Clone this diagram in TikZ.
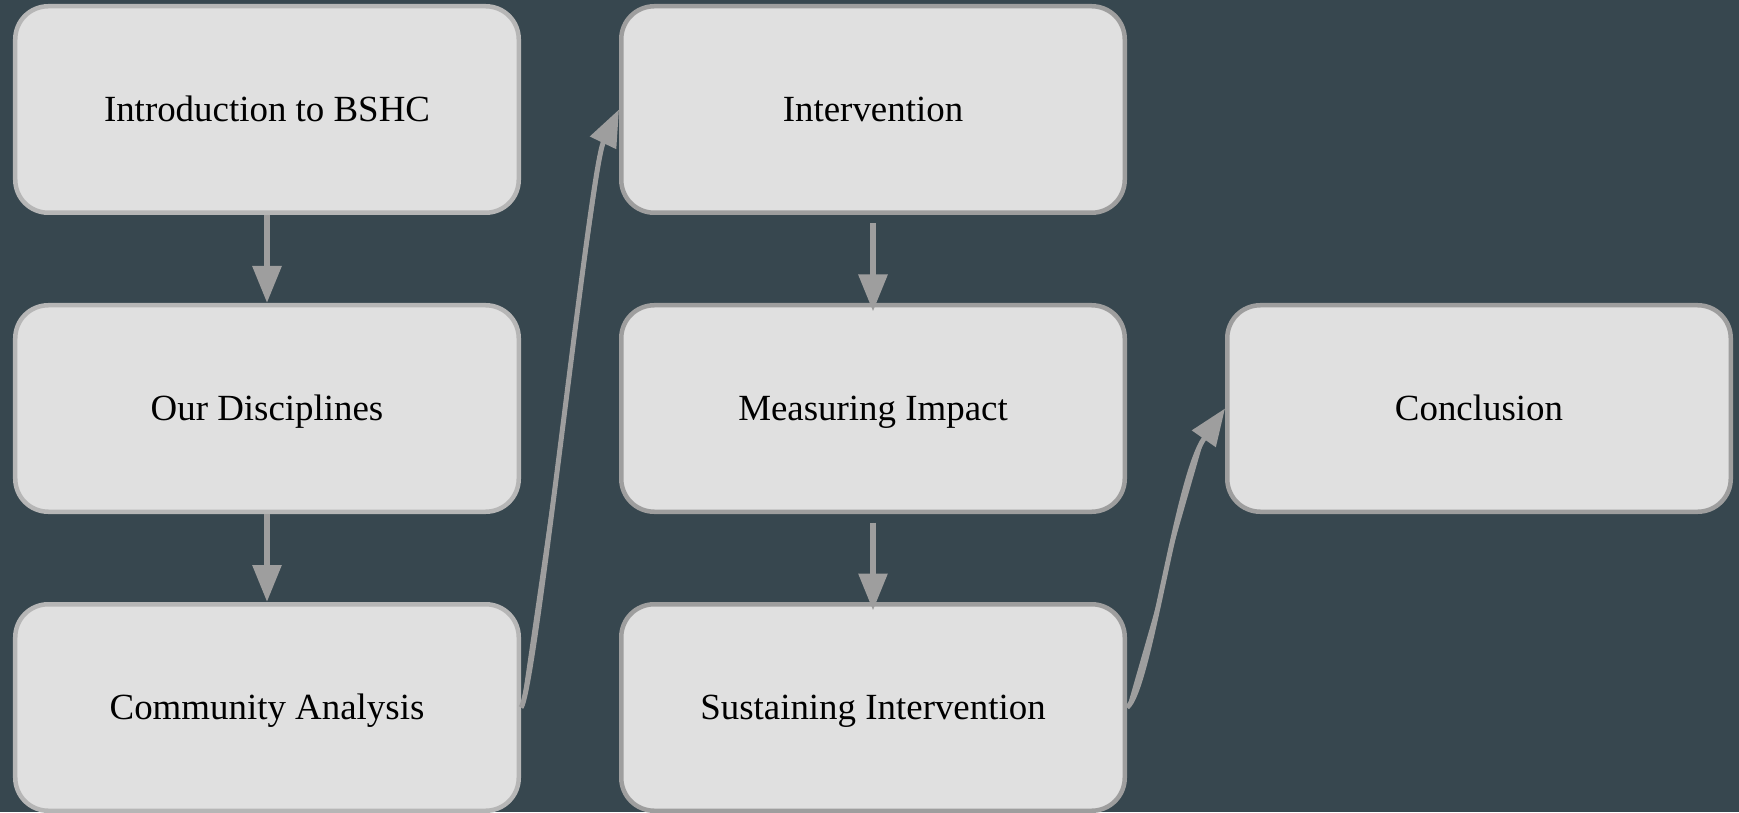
\documentclass[tikz,border=0pt]{standalone}
\usepackage{fontspec}
\setmainfont{Liberation Serif}
\usetikzlibrary{positioning, arrows.meta}
\definecolor{slate}{HTML}{37474F}
\definecolor{boxfill}{HTML}{E0E0E0}
\definecolor{rimlight}{HTML}{B6B6B6}
\definecolor{rimdark}{HTML}{9E9E9E}

\begin{document}
\begin{tikzpicture}[
    >={Triangle[length=0.74cm, width=0.56cm]},
    base_box/.style ={rounded corners=0.66cm, fill=boxfill, line width=0.09cm,
                      minimum width=10.07cm, minimum height=4.13cm,
                      font=\fontsize{21}{25}\selectfont, text=black,
                      text height=14pt, text depth=0pt},
    box_left/.style ={base_box, draw=rimlight},
    box_right/.style={base_box, draw=rimdark},
    flow/.style     ={->, draw=rimdark, fill=rimdark, line width=0.12cm},
    bend_flow/.style={flow, line width=0.1cm},
    dshift/.style   ={yshift=-0.17cm}
]

% Background
\useasboundingbox (0,0) rectangle (34.78,16.24);
\fill[slate] (0,0) rectangle (34.78,16.24);

% First column
\node[box_left] (intro) at (5.34,14.05) {Introduction to BSHC};
\node[box_left, below=1.76cm of intro] (disciplines) {Our Disciplines};
\node[box_left, below=1.76cm of disciplines] (community) {Community Analysis};

% Second column
\node[box_right, right=1.96cm of intro] (intervention) {Intervention};
\node[box_right, below=1.76cm of intervention] (impact) {Measuring Impact};
\node[box_right, below=1.76cm of impact] (sustaining) {Sustaining Intervention};

% Last step
\node[box_right, right=1.96cm of impact] (conclusion) {Conclusion};

% Straight links
\draw[flow] (intro) -- (disciplines);
\draw[flow] (disciplines) -- (community);
\draw[flow] ([dshift]intervention.south) -- ([dshift]impact.north);
\draw[flow] ([dshift]impact.south) -- ([dshift]sustaining.north);

% Curved links between columns
\draw[bend_flow] (community.east) .. controls +(0.28,0.32)
    and ([shift={(-0.58,-1.21)}]intervention.west) .. (intervention.west);
\draw[bend_flow] (sustaining.east) .. controls +(0.46,0.36)
    and ([shift={(-0.98,-1.4)}]conclusion.west) .. (conclusion.west);

\end{tikzpicture}
\end{document}
